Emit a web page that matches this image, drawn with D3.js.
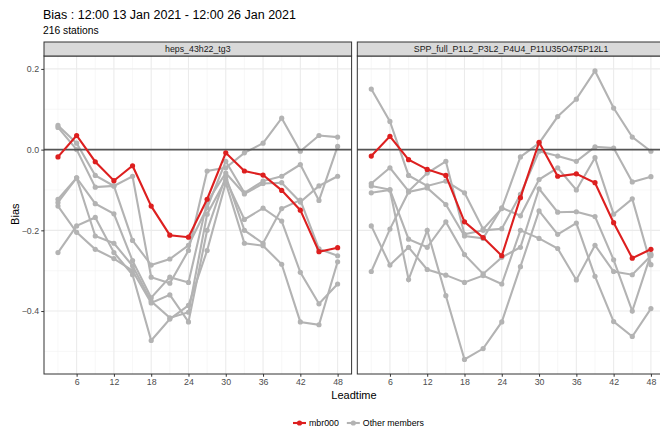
<!DOCTYPE html>
<meta charset="utf-8">
<style>
body { margin: 0; background: #fff; }
svg { font-family: "Liberation Sans", Arial, Helvetica, sans-serif; display: block; }
</style>
<svg width="660" height="429"></svg>
<script src="https://d3js.org/d3.v7.min.js"></script>
<script>

// lead times (hours)
var leadtimes = [3, 6, 9, 12, 15, 18, 21, 24, 27, 30, 33, 36, 39, 42, 45, 48];
var xTicks = [6, 12, 18, 24, 30, 36, 42, 48];
var yTicks = [0.2, 0.0, -0.2, -0.4];
var facets = ["heps_43h22_tg3", "SPP_full_P1L2_P3L2_P4U4_P11U35O475P12L1"];

// control member, per facet
var heps_mbr000 = [-0.018, 0.035, -0.030, -0.077, -0.040, -0.140, -0.212, -0.217, -0.123, -0.008, -0.053, -0.063, -0.101, -0.150, -0.253, -0.243];
var spp_mbr000 = [-0.016, 0.033, -0.025, -0.049, -0.064, -0.179, -0.218, -0.263, -0.119, 0.018, -0.066, -0.060, -0.082, -0.181, -0.269, -0.247];

// other members, per facet
var heps_others = [
  [0.060, 0.016, -0.064, -0.090, -0.066, -0.316, -0.331, -0.250, -0.053, -0.045, -0.008, 0.016, 0.078, -0.004, 0.035, 0.031],
  [0.055, 0.000, -0.093, -0.090, -0.225, -0.286, -0.271, -0.237, -0.144, -0.029, -0.107, -0.078, -0.066, -0.037, -0.126, 0.008],
  [-0.123, -0.070, -0.134, -0.159, -0.275, -0.367, -0.316, -0.329, -0.130, -0.058, -0.110, -0.084, -0.082, -0.130, -0.090, -0.066],
  [-0.131, -0.070, -0.214, -0.232, -0.288, -0.376, -0.417, -0.403, -0.160, -0.074, -0.173, -0.145, -0.177, -0.304, -0.382, -0.333],
  [-0.140, -0.205, -0.247, -0.270, -0.300, -0.380, -0.360, -0.427, -0.200, -0.066, -0.200, -0.232, -0.146, -0.125, -0.246, -0.263],
  [-0.255, -0.189, -0.168, -0.255, -0.310, -0.473, -0.420, -0.386, -0.250, -0.082, -0.232, -0.238, -0.284, -0.427, -0.434, -0.278]
];
var spp_others = [
  [0.150, 0.070, -0.064, -0.090, -0.078, -0.107, -0.197, -0.146, -0.018, 0.016, 0.082, 0.125, 0.195, 0.103, 0.031, -0.004],
  [-0.084, -0.045, -0.103, -0.058, -0.029, -0.210, -0.200, -0.196, -0.111, -0.004, -0.016, -0.029, 0.007, 0.004, -0.080, -0.067],
  [-0.302, -0.197, -0.105, -0.095, -0.136, -0.214, -0.220, -0.144, -0.164, -0.074, -0.045, -0.100, -0.020, -0.160, -0.122, -0.285],
  [-0.090, -0.099, -0.222, -0.242, -0.179, -0.260, -0.308, -0.267, -0.242, -0.097, -0.155, -0.154, -0.166, -0.273, -0.400, -0.259],
  [-0.189, -0.286, -0.242, -0.297, -0.311, -0.329, -0.312, -0.333, -0.200, -0.220, -0.245, -0.323, -0.237, -0.302, -0.310, -0.263],
  [-0.107, -0.100, -0.322, -0.200, -0.362, -0.520, -0.493, -0.427, -0.290, -0.152, -0.210, -0.182, -0.314, -0.426, -0.463, -0.394]
];

var mbrColor = "#dd1f1f",
    otherColor = "#b3b3b3";

var svg = d3.select("svg");

var panelTop = 56, panelBottom = 374, stripH = 14;
var panels = [
  {name: facets[0], left: 44, right: 351.6, mbr: heps_mbr000, others: heps_others},
  {name: facets[1], left: 357.3, right: 664.9, mbr: spp_mbr000, others: spp_others}
];

var y = d3.scaleLinear()
    .domain([-0.556, 0.232])
    .range([panelBottom, panelTop]);

// titles
svg.append("text")
    .attr("x", 43).attr("y", 19)
    .attr("font-size", 12.5).attr("fill", "#000")
    .text("Bias : 12:00 13 Jan 2021 - 12:00 26 Jan 2021");
svg.append("text")
    .attr("x", 43).attr("y", 34)
    .attr("font-size", 10.3).attr("fill", "#000")
    .text("216 stations");

panels.forEach(function(p, pi) {
  var x = d3.scaleLinear()
      .domain([0.75, 50.25])
      .range([p.left, p.right]);

  var g = svg.append("g");

  g.append("rect")
      .attr("x", p.left).attr("y", panelTop)
      .attr("width", p.right - p.left).attr("height", panelBottom - panelTop)
      .attr("fill", "#fff");

  // minor grid
  g.selectAll(".gx-minor")
    .data(d3.range(3, 49, 6))
    .enter().append("line")
      .attr("x1", function(d) { return x(d); }).attr("x2", function(d) { return x(d); })
      .attr("y1", panelTop).attr("y2", panelBottom)
      .attr("stroke", "#f2f2f2").attr("stroke-width", 0.6);
  g.selectAll(".gy-minor")
    .data([0.1, -0.1, -0.3, -0.5])
    .enter().append("line")
      .attr("x1", p.left).attr("x2", p.right)
      .attr("y1", function(d) { return y(d); }).attr("y2", function(d) { return y(d); })
      .attr("stroke", "#f2f2f2").attr("stroke-width", 0.6);

  // major grid
  g.selectAll(".gx")
    .data(xTicks)
    .enter().append("line")
      .attr("x1", function(d) { return x(d); }).attr("x2", function(d) { return x(d); })
      .attr("y1", panelTop).attr("y2", panelBottom)
      .attr("stroke", "#ebebeb").attr("stroke-width", 1.1);
  g.selectAll(".gy")
    .data(yTicks)
    .enter().append("line")
      .attr("x1", p.left).attr("x2", p.right)
      .attr("y1", function(d) { return y(d); }).attr("y2", function(d) { return y(d); })
      .attr("stroke", "#ebebeb").attr("stroke-width", 1.1);

  var line = d3.line()
      .x(function(d, i) { return x(leadtimes[i]); })
      .y(function(d) { return y(d); });

  var others = g.selectAll(".other")
    .data(p.others)
    .enter().append("g");
  others.append("path")
      .attr("d", line)
      .attr("fill", "none")
      .attr("stroke", otherColor)
      .attr("stroke-width", 2.1);
  others.selectAll("circle")
    .data(function(d) { return d; })
    .enter().append("circle")
      .attr("cx", function(d, i) { return x(leadtimes[i]); })
      .attr("cy", function(d) { return y(d); })
      .attr("r", 2.6)
      .attr("fill", otherColor);

  // zero line
  g.append("line")
      .attr("x1", p.left).attr("x2", p.right)
      .attr("y1", y(0)).attr("y2", y(0))
      .attr("stroke", "#555").attr("stroke-width", 1.6);

  g.append("path")
      .datum(p.mbr)
      .attr("d", line)
      .attr("fill", "none")
      .attr("stroke", mbrColor)
      .attr("stroke-width", 2.1);
  g.selectAll(".mbr")
    .data(p.mbr)
    .enter().append("circle")
      .attr("cx", function(d, i) { return x(leadtimes[i]); })
      .attr("cy", function(d) { return y(d); })
      .attr("r", 2.6)
      .attr("fill", mbrColor);

  // panel border
  g.append("rect")
      .attr("x", p.left).attr("y", panelTop)
      .attr("width", p.right - p.left).attr("height", panelBottom - panelTop)
      .attr("fill", "none").attr("stroke", "#333").attr("stroke-width", 1);

  // strip
  g.append("rect")
      .attr("x", p.left).attr("y", panelTop - stripH)
      .attr("width", p.right - p.left).attr("height", stripH)
      .attr("fill", "#d9d9d9").attr("stroke", "#333").attr("stroke-width", 1);
  g.append("text")
      .attr("x", (p.left + p.right) / 2).attr("y", panelTop - 4)
      .attr("text-anchor", "middle")
      .attr("font-size", 8.8).attr("fill", "#1a1a1a")
      .text(p.name);

  // x axis
  var xa = g.append("g")
      .attr("transform", "translate(0," + panelBottom + ")")
      .call(d3.axisBottom(x).tickValues(xTicks).tickSize(2.75).tickPadding(2.2));
  xa.select(".domain").remove();
  xa.selectAll("line").attr("stroke", "#333");
  xa.selectAll("text").attr("fill", "#4d4d4d").attr("font-size", 8.8).attr("font-family", null);

  if (pi === 0) {
    var ya = g.append("g")
        .attr("transform", "translate(" + p.left + ",0)")
        .call(d3.axisLeft(y).tickValues(yTicks).tickFormat(d3.format(".1f")).tickSize(2.75).tickPadding(2.2));
    ya.select(".domain").remove();
    ya.selectAll("line").attr("stroke", "#333");
    ya.selectAll("text").attr("fill", "#4d4d4d").attr("font-size", 8.8).attr("font-family", null);
  }
});

// axis titles
svg.append("text")
    .attr("x", 354).attr("y", 399)
    .attr("text-anchor", "middle")
    .attr("font-size", 11).attr("fill", "#000")
    .text("Leadtime");
svg.append("text")
    .attr("transform", "translate(19," + y(-0.16) + ") rotate(-90)")
    .attr("text-anchor", "middle")
    .attr("font-size", 11).attr("fill", "#000")
    .text("Bias");

// legend
var legendItems = [
  {label: "mbr000", color: mbrColor},
  {label: "Other members", color: otherColor}
];
var lg = svg.append("g").attr("transform", "translate(292,423)");
var lx = 0;
legendItems.forEach(function(d) {
  var item = lg.append("g").attr("transform", "translate(" + lx + ",0)");
  item.append("line")
      .attr("x1", 1).attr("x2", 14).attr("y1", 0).attr("y2", 0)
      .attr("stroke", d.color).attr("stroke-width", 2.1);
  item.append("circle")
      .attr("cx", 7.5).attr("cy", 0).attr("r", 2.6)
      .attr("fill", d.color);
  var t = item.append("text")
      .attr("x", 17).attr("y", 3.2)
      .attr("font-size", 8.8).attr("fill", "#000")
      .text(d.label);
  lx += 17 + t.node().getComputedTextLength() + 7;
});

</script>
